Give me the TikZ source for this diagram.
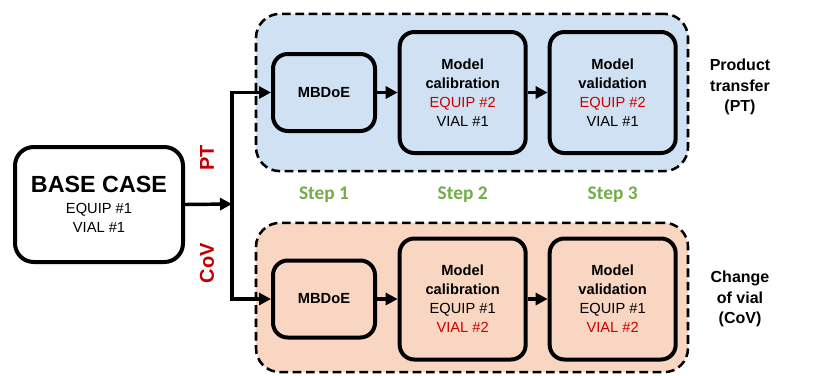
\documentclass[tikz,border=0pt]{standalone}
\usepackage{fontspec}
\setmainfont{Liberation Sans}
\newfontfamily\stepfont{Carlito}
\usetikzlibrary{positioning,arrows.meta}
\definecolor{ptfill}{HTML}{CFE1F2}
\definecolor{covfill}{HTML}{F9D6C1}
\definecolor{hired}{HTML}{CC0000}
\definecolor{branchred}{HTML}{C00000}
\definecolor{stepgreen}{HTML}{70AD47}
\tikzset{
  stepbox/.style  = {draw, line width=3pt, rounded corners=11pt, align=center,
                     font=\fontsize{11}{14.2}\selectfont},
  small/.style    = {stepbox, minimum width=76.5pt, minimum height=57.75pt},
  large/.style    = {stepbox, minimum width=94.5pt, minimum height=90.75pt},
  frame/.style    = {draw, dashed, dash pattern=on 6.5pt off 3.5pt, line width=1.9pt,
                     rounded corners=18pt, minimum width=324pt},
  ptframe/.style  = {frame, fill=ptfill, minimum height=118pt},
  covframe/.style = {frame, fill=covfill, minimum height=112pt},
  branch/.style   = {font=\fontsize{15}{18}\selectfont\bfseries, text=branchred, rotate=90},
  steplabel/.style= {font=\stepfont\fontsize{14.5}{17}\selectfont\bfseries, text=stepgreen},
  sidelabel/.style= {align=center, font=\fontsize{12}{15.5}\selectfont\bfseries},
  flow/.style     = {-{Triangle[length=9pt,width=9pt]}, line width=2.6pt},
}

\begin{document}
\begin{tikzpicture}[x=0.75pt,y=-0.75pt]
\useasboundingbox (0,0) rectangle (813,375);

%% dashed frames
\node[ptframe]  (ptbox)  at (472,92.5)  {};
\node[covframe] (covbox) at (472,297.5) {};

%% base case
\node[stepbox, minimum width=126pt, minimum height=86.25pt, rounded corners=14pt] (base) at (99,204.5)
  {{\fontsize{17.5}{21}\selectfont\bfseries BASE CASE}\\[2pt]EQUIP \#1\\VIAL \#1};
\coordinate (split) at (232,204);

%% product transfer
\node[small, fill=ptfill] (mbdoe1) at (324,92.5) {\textbf{MBDoE}};
\node[large, fill=ptfill, right=15.5pt of mbdoe1] (cal1)
  {\textbf{Model}\\\textbf{calibration}\\\textcolor{hired}{EQUIP \#2}\\VIAL \#1};
\node[large, fill=ptfill, right=15pt of cal1] (val1)
  {\textbf{Model}\\\textbf{validation}\\\textcolor{hired}{EQUIP \#2}\\VIAL \#1};

%% change of vial
\node[small, fill=covfill] (mbdoe2) at (324,299) {\textbf{MBDoE}};
\node[large, fill=covfill, right=15.5pt of mbdoe2] (cal2)
  {\textbf{Model}\\\textbf{calibration}\\EQUIP \#1\\\textcolor{hired}{VIAL \#2}};
\node[large, fill=covfill, right=15pt of cal2] (val2)
  {\textbf{Model}\\\textbf{validation}\\EQUIP \#1\\\textcolor{hired}{VIAL \#2}};

%% labels
\node[branch] (ptlab)  at (207,158) {PT};
\node[branch] (covlab) at (207,263) {CoV};
\coordinate (steprow) at (0,195);
\node[steplabel] (step1) at (mbdoe1 |- steprow) {Step 1};
\node[steplabel] (step2) at (cal1 |- steprow)   {Step 2};
\node[steplabel] (step3) at (val1 |- steprow)   {Step 3};
\node[sidelabel] (ptside)  at (740,87)  {Product\\transfer\\(PT)};
\node[sidelabel] (covside) at (740,299) {Change\\of vial\\(CoV)};

%% flows
\draw[flow] (base.east) -- (split);
\draw[flow] (split) |- (mbdoe1.west);
\draw[flow] (split) |- (mbdoe2.west);
\draw[flow] (mbdoe1) -- (cal1);
\draw[flow] (cal1) -- (val1);
\draw[flow] (mbdoe2) -- (cal2);
\draw[flow] (cal2) -- (val2);

\end{tikzpicture}
\end{document}
